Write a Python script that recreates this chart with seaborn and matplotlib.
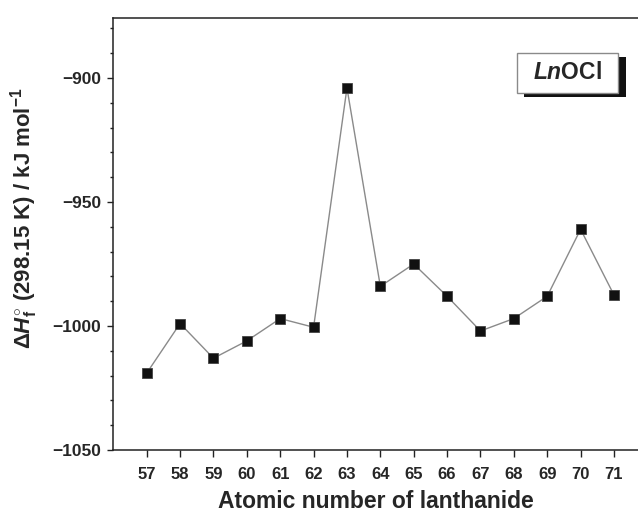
import matplotlib
matplotlib.use("Agg")
import matplotlib.pyplot as plt
import seaborn as sns
import pandas as pd
from matplotlib.patches import Rectangle
from matplotlib.ticker import MultipleLocator

atomic_number = [57, 58, 59, 60, 61, 62, 63, 64, 65, 66, 67, 68, 69, 70, 71]
enthalpy = [-1019, -999, -1013, -1006, -997, -1000.5, -904, -984, -975,
            -988, -1002, -997, -988, -961, -987.5]
x_ticks = list(range(57, 72))
y_ticks = [-1050, -1000, -950, -900]

sns.set_style("ticks")
plt.rcParams["font.family"] = ["Liberation Sans", "DejaVu Sans"]
plt.rcParams["mathtext.fontset"] = "custom"
plt.rcParams["mathtext.rm"] = "Liberation Sans:bold"
plt.rcParams["mathtext.bf"] = "Liberation Sans:bold"
plt.rcParams["mathtext.it"] = "Liberation Sans:bold:italic"

df = pd.DataFrame({"Z": atomic_number, "H": enthalpy})

fig = plt.figure(figsize=(6.38, 5.14), dpi=100)
ax = fig.add_axes([113 / 638, 64 / 514, 525 / 638, 432 / 514])

sns.lineplot(data=df, x="Z", y="H", ax=ax, color="#8a8a8a", linewidth=1.0,
             marker="s", markersize=7, markerfacecolor="#111111",
             markeredgecolor="#444444", markeredgewidth=0.6)

ax.set_xlim(55.99, 71.72)
ax.set_ylim(-1050, -875.8)
ax.set_xticks(x_ticks)
ax.set_xticklabels([str(t) for t in x_ticks])
ax.set_yticks(y_ticks)
ax.yaxis.set_minor_locator(MultipleLocator(10))

for s in ["left", "top", "bottom"]:
    ax.spines[s].set_color("#222222")
    ax.spines[s].set_linewidth(1.1)
ax.spines["right"].set_visible(False)

ax.tick_params(axis="x", which="major", direction="out", length=5, width=1.0,
               color="#222222", pad=7, labelsize=12)
ax.tick_params(axis="y", which="major", direction="out", length=4.5, width=1.0,
               color="#222222", pad=4, labelsize=12.5)
ax.tick_params(axis="y", which="minor", direction="out", length=2.5, width=1.0,
               color="#222222")
for lab in ax.get_xticklabels() + ax.get_yticklabels():
    lab.set_fontweight("bold")

ax.set_xlabel("Atomic number of lanthanide", fontsize=16.5, fontweight="bold",
              labelpad=6)
ax.set_ylabel(r"Δ$H^{\circ}_{\mathrm{f}}$ (298.15 K) / kJ mol$^{-1}$",
              fontsize=16, fontweight="bold")
ax.yaxis.set_label_coords(-0.139, 0.537)

# label box with shadow
fw, fh = 638.0, 514.0
shadow = Rectangle((524 / fw, 1 - 97 / fh), 102 / fw, 40 / fh,
                   transform=fig.transFigure, facecolor="#111111",
                   edgecolor="none", zorder=5)
box = Rectangle((517 / fw, 1 - 93 / fh), 101 / fw, 40 / fh,
                transform=fig.transFigure, facecolor="white",
                edgecolor="#8a8a8a", linewidth=1.0, zorder=6)
fig.patches.extend([shadow, box])
fig.text(567.5 / fw, 1 - 73 / fh, r"$\mathit{Ln}$OCl", fontsize=16.5,
         fontweight="bold", ha="center", va="center", zorder=7)

fig.savefig("out.png", dpi=100)
